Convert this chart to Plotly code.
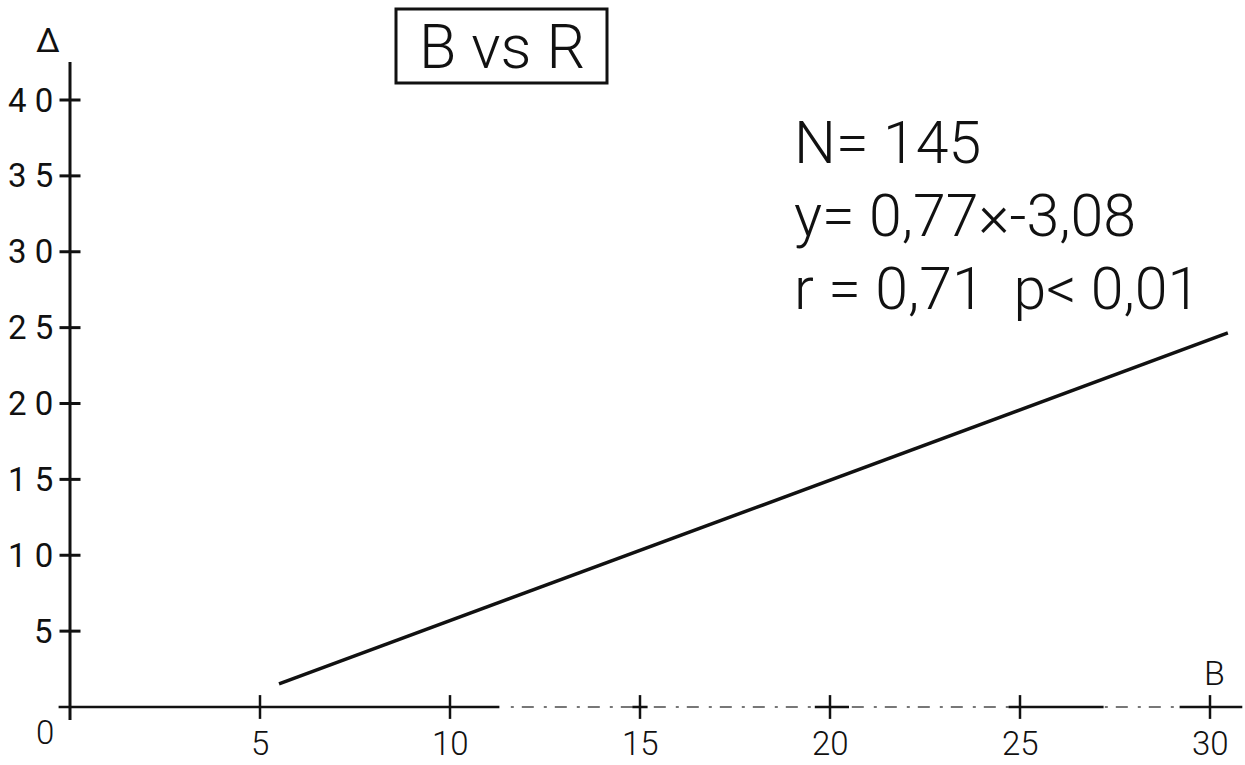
import plotly.graph_objects as go

# ---- data ----
line_x = [5.5, 30.47]
line_y = [1.52, 24.65]

x_ticks = [5, 10, 15, 20, 25, 30]
x_tick_labels = ["5", "10", "15", "20", "25", "30"]
y_ticks = [5, 10, 15, 20, 25, 30, 35, 40]
y_tick_labels = ["5", "1 0", "1 5", "2 0", "2 5", "3 0", "3 5", "4 0"]

title_text = "B vs R"
stats_lines = ["N= 145", "y= 0,77\u00d7-3,08", "r = 0,71  p< 0,01"]
x_axis_label = "B"
y_axis_label = "\u0394"

W, H = 1245, 765
FONT = "Roboto, Liberation Sans, sans-serif"
INK = "#111111"

# axis ranges chosen so that the plot fills the whole page
X0_PX, XSCALE = 70, 38.0
Y0_PX, YSCALE = 707, 15.175
x_range = [-X0_PX / XSCALE, (W - X0_PX) / XSCALE]
y_range = [-(H - Y0_PX) / YSCALE, Y0_PX / YSCALE]

fig = go.Figure()

# regression line
fig.add_trace(go.Scatter(x=line_x, y=line_y, mode="lines",
                         line=dict(color=INK, width=3.5),
                         hoverinfo="skip", showlegend=False))

# crossing tick marks on both axes
fig.add_trace(go.Scatter(x=[0] * len(y_ticks), y=y_ticks, mode="markers",
                         marker=dict(symbol="line-ew", size=15,
                                     line=dict(color=INK, width=3)),
                         cliponaxis=False, hoverinfo="skip", showlegend=False))
fig.add_trace(go.Scatter(x=x_ticks, y=[0] * len(x_ticks), mode="markers",
                         marker=dict(symbol="line-ns", size=17,
                                     line=dict(color=INK, width=2.5)),
                         cliponaxis=False, hoverinfo="skip", showlegend=False))

shapes = []
# y axis
shapes.append(dict(type="line", xref="x", yref="y", x0=0, x1=0, y0=-0.86, y1=42.5,
                   line=dict(color=INK, width=3)))
# x axis: solid at left, broken (scanned) to the right
shapes.append(dict(type="line", xref="x", yref="y", x0=-0.3, x1=11.3, y0=0, y1=0,
                   line=dict(color=INK, width=2.5)))
shapes.append(dict(type="line", xref="x", yref="y", x0=11.6, x1=30.85, y0=0, y1=0,
                   line=dict(color="#777777", width=1.8, dash="3px,8px,12px,10px")))
for a, b in [(14.8, 15.2), (19.6, 20.5), (24.7, 27.2), (29.2, 30.85)]:
    shapes.append(dict(type="line", xref="x", yref="y", x0=a, x1=b, y0=0, y1=0,
                       line=dict(color=INK, width=2.5)))
# title box
shapes.append(dict(type="rect", xref="paper", yref="paper",
                   x0=396 / W, x1=607 / W, y0=1 - 83 / H, y1=1 - 9 / H,
                   line=dict(color=INK, width=3)))

annotations = []
for v, t in zip(y_ticks, y_tick_labels):
    annotations.append(dict(x=0, y=v, xref="x", yref="y", text=t, showarrow=False,
                            xanchor="right", yanchor="middle", xshift=-15,
                            font=dict(family=FONT, size=33, color=INK)))
annotations.append(dict(x=0, y=0, xref="x", yref="y", text="0", showarrow=False,
                        xanchor="right", yanchor="top", xshift=-14, yshift=-4,
                        font=dict(family=FONT, size=33, color=INK, weight=300)))
for v, t in zip(x_ticks, x_tick_labels):
    annotations.append(dict(x=v, y=0, xref="x", yref="y", text=t, showarrow=False,
                            xanchor="center", yanchor="top", yshift=-15,
                            font=dict(family=FONT, size=33, color=INK, weight=300)))
annotations.append(dict(x=30, y=0, xref="x", yref="y", text=x_axis_label,
                        showarrow=False, xanchor="center", yanchor="bottom",
                        xshift=4, yshift=12,
                        font=dict(family=FONT, size=34, color=INK, weight=300)))
annotations.append(dict(x=0, y=42.5, xref="x", yref="y", text=y_axis_label,
                        showarrow=False, xanchor="center", yanchor="bottom",
                        xshift=-22, yshift=0,
                        font=dict(family=FONT, size=34, color=INK)))
# title text
annotations.append(dict(x=502 / W, y=1 - 47 / H, xref="paper", yref="paper",
                        text=title_text, showarrow=False,
                        xanchor="center", yanchor="middle",
                        font=dict(family=FONT, size=61, color=INK, weight=300)))
# statistics block
for i, t in enumerate(stats_lines):
    annotations.append(dict(x=792 / W, y=1 - (142 + 73 * i) / H,
                            xref="paper", yref="paper", text=t, showarrow=False,
                            xanchor="left", yanchor="middle",
                            font=dict(family=FONT, size=59, color=INK, weight=300)))

fig.update_layout(
    width=W, height=H,
    margin=dict(l=0, r=0, t=0, b=0),
    paper_bgcolor="white", plot_bgcolor="white",
    xaxis=dict(range=x_range, visible=False, fixedrange=True),
    yaxis=dict(range=y_range, visible=False, fixedrange=True),
    shapes=shapes, annotations=annotations,
    showlegend=False,
)

fig.write_html("out.html")
